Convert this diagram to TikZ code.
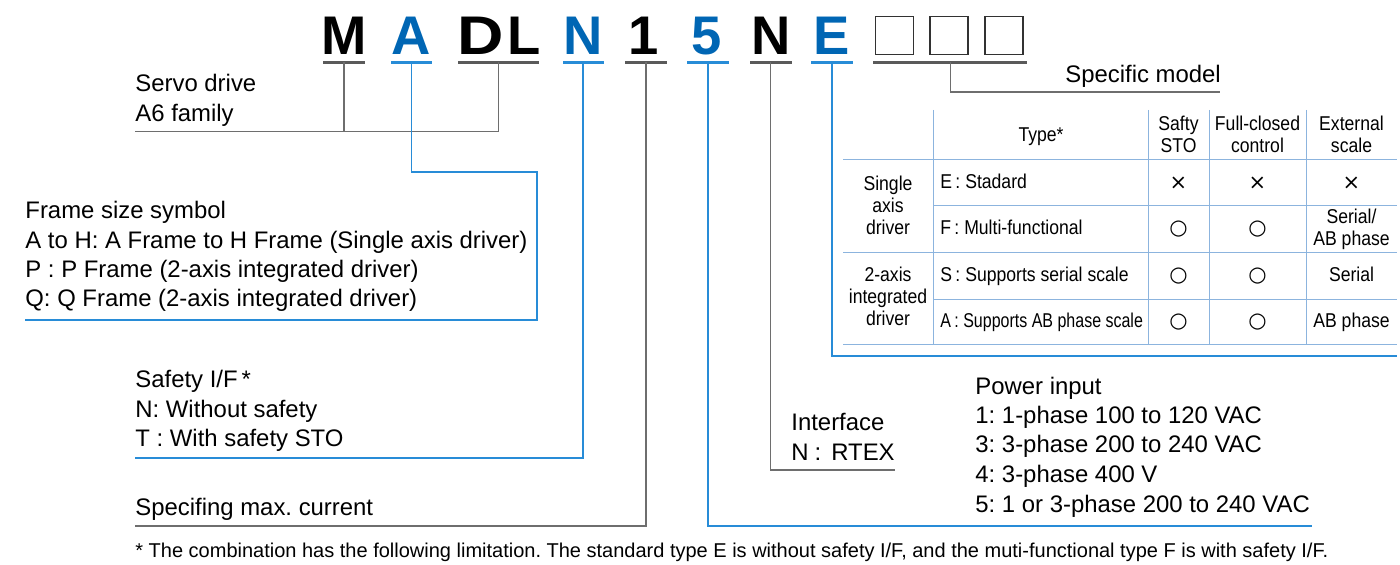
\documentclass[tikz,border=0pt]{standalone}
\usepackage{fontspec}
\setmainfont{Liberation Sans}
\newfontfamily\symfont{DejaVu Sans}
\newfontfamily\narrowfont[FakeStretch=0.88]{Liberation Sans}
\newfontfamily\narrowerfont[FakeStretch=0.80]{Liberation Sans}
\definecolor{codeblue}{RGB}{0,102,180}
\definecolor{lineblue}{RGB}{40,140,215}
\definecolor{linegray}{RGB}{110,110,110}
\definecolor{bargray}{RGB}{90,90,90}
\definecolor{tblue}{RGB}{140,180,222}
\definecolor{boxgray}{RGB}{50,50,50}
\frenchspacing
\begin{document}
\begin{tikzpicture}[x=0.5pt,y=-0.5pt,
  bigch/.style={font=\fontsize{27.2}{27.2}\selectfont\bfseries, anchor=base, inner sep=0},
  bigblue/.style={bigch, text=codeblue},
  lbl/.style={font=\fontsize{11.95}{14}\selectfont, anchor=base west, inner sep=0},
  foot/.style={font=\fontsize{10}{12}\selectfont, anchor=base west, inner sep=0},
  tbl/.style={font=\narrowfont\fontsize{10}{12}\selectfont, anchor=base, inner sep=0},
  tblw/.style={tbl, anchor=base west},
  tbln/.style={font=\narrowerfont\fontsize{10}{12}\selectfont, anchor=base west, inner sep=0},
  sym/.style={font=\symfont\fontsize{10.5}{12}\selectfont, anchor=center, inner sep=0},
  gline/.style={draw=linegray, line width=0.6pt},
  bline/.style={draw=lineblue, line width=0.6pt},
  gbar/.style={draw=bargray, line width=1.5pt},
  bbar/.style={draw=lineblue, line width=1.5pt},
  tline/.style={draw=tblue, line width=0.5pt},
  codebox/.style={draw=boxgray, line width=0.7pt, minimum width=19pt, minimum height=19pt, inner sep=0}
]
\useasboundingbox (0,0) rectangle (1400,565);

% ---- model code letters
\node[bigch]   (cM)  at (344,55) {M};
\node[bigblue] (cA)  at (411.5,55) {A};
\node[bigch]   (cD)  at (481,55) {\scalebox{1.18}[1]{D}};
\node[bigch]   (cL)  at (524.5,55) {L};
\node[bigblue] (cN1) at (583,55) {N};
\node[bigch]   (c1)  at (644,55) {1};
\node[bigblue] (c5)  at (706.5,55) {5};
\node[bigch]   (cN2) at (771,55) {N};
\node[bigblue] (cE)  at (832,55) {E};
\node[codebox] (bx1) at (894.5,35.5) {};
\node[codebox] (bx2) at (949,35.5) {};
\node[codebox] (bx3) at (1004,35.5) {};

% ---- underline bars
\coordinate (uM1) at (323,62.5);  \coordinate (uM2) at (365,62.5);  \coordinate (uM) at (344,62.5);
\coordinate (uA1) at (391,62.5);  \coordinate (uA2) at (432,62.5);  \coordinate (uA) at (411.5,62.5);
\coordinate (uD1) at (458,62.5);  \coordinate (uD2) at (539,62.5);  \coordinate (uD) at (498.5,62.5);
\coordinate (uN1) at (563,62.5);  \coordinate (uN2) at (604,62.5);  \coordinate (uN) at (583,62.5);
\coordinate (u11) at (625,62.5);  \coordinate (u12) at (667,62.5);  \coordinate (u1) at (646,62.5);
\coordinate (u51) at (687,62.5);  \coordinate (u52) at (729,62.5);  \coordinate (u5) at (708,62.5);
\coordinate (uP1) at (750,62.5);  \coordinate (uP2) at (792,62.5);  \coordinate (uP) at (770.5,62.5);
\coordinate (uE1) at (811,62.5);  \coordinate (uE2) at (853,62.5);  \coordinate (uE) at (832,62.5);
\coordinate (uB1) at (873,62.5);  \coordinate (uB2) at (1027,62.5); \coordinate (uB) at (950.5,62.5);
\draw[gbar] (uM1) -- (uM2);
\draw[bbar] (uA1) -- (uA2);
\draw[gbar] (uD1) -- (uD2);
\draw[bbar] (uN1) -- (uN2);
\draw[gbar] (u11) -- (u12);
\draw[bbar] (u51) -- (u52);
\draw[gbar] (uP1) -- (uP2);
\draw[bbar] (uE1) -- (uE2);
\draw[gbar] (uB1) -- (uB2);

% ---- labels
\node[lbl] (sv1) at (135,92) {Servo drive};
\node[lbl] (sv2) at (135,122) {A6 family};
\node[lbl] (fr1) at (25,219) {Frame size symbol};
\node[lbl] (fr2) at (25,249) {A to H: A Frame to H Frame (Single axis driver)};
\node[lbl] (fr3) at (25,278) {P : P Frame (2-axis integrated driver)};
\node[lbl] (fr4) at (25,307) {Q: Q Frame (2-axis integrated driver)};
\node[lbl] (sf1) at (135,388) {Safety I/F\,*};
\node[lbl] (sf2) at (135,418) {N: Without safety};
\node[lbl] (sf3) at (135,447) {T : With safety STO};
\node[lbl] (mc1) at (135,516) {Specifing max. current};
\node[lbl] (if1) at (791,431) {Interface};
\node[lbl] (if2) at (791,461) {N\hspace{3pt}:\hspace{5pt}RTEX};
\node[lbl] (pw1) at (975,395) {Power input};
\node[lbl] (pw2) at (975,424) {1: 1-phase 100 to 120 VAC};
\node[lbl] (pw3) at (975,453) {3: 3-phase 200 to 240 VAC};
\node[lbl] (pw4) at (975,483) {4: 3-phase 400 V};
\node[lbl] (pw5) at (975,512) {5: 1 or 3-phase 200 to 240 VAC};
\node[lbl] (spm) at (1065,83) {Specific model};
\node[foot] (fn) at (135,557) {* The combination has the following limitation. The standard type E is without safety I/F, and the muti-functional type F is with safety I/F.};

% ---- connector corners
\coordinate (svL) at (135,131.5);
\coordinate (svM) at (344,131.5);
\coordinate (svR) at (498.5,131.5);
\coordinate (frA) at (537,172);
\coordinate (frB) at (537,320);
\coordinate (frL) at (25,320);
\coordinate (sfR) at (583,458);
\coordinate (sfL) at (135,458);
\coordinate (mcR) at (646,526);
\coordinate (mcL) at (135,526);
\coordinate (pwL) at (708,526);
\coordinate (pwR) at (1312,526);
\coordinate (ifB) at (770.5,470);
\coordinate (ifR) at (895,470);
\coordinate (tbB) at (832,356);
\coordinate (tbR) at (1397,356);
\coordinate (spB) at (950.5,92);
\coordinate (spR) at (1220,92);

\draw[gline] (uM) -- (svM);
\draw[gline] (uD) -- (svR) -- (svL);
\draw[bline] (uA) |- (frA) -- (frB) -- (frL);
\draw[bline] (uN) -- (sfR) -- (sfL);
\draw[gline] (u1) -- (mcR) -- (mcL);
\draw[bline] (u5) -- (pwL) -- (pwR);
\draw[gline] (uP) -- (ifB) -- (ifR);
\draw[bline] (uE) -- (tbB) -- (tbR);
\draw[gline] (uB) -- (spB) -- (spR);

% ---- table grid
\draw[tline] (933,110) -- (933,345);
\draw[tline] (1148,110) -- (1148,345);
\draw[tline] (1209,110) -- (1209,345);
\draw[tline] (1306,110) -- (1306,345);
\draw[tline] (843,160) -- (1397,160);
\draw[tline] (933,206) -- (1397,206);
\draw[tline] (843,253) -- (1397,253);
\draw[tline] (933,300) -- (1397,300);
\draw[tline] (843,345) -- (1397,345);

% header
\node[tbl] (hType) at (1041,142) {Type*};
\node[tbl] (hS1) at (1178.5,131) {Safty};
\node[tbl] (hS2) at (1178.5,153) {STO};
\node[tbl] (hF1) at (1257.5,131) {Full-closed};
\node[tbl] (hF2) at (1257.5,153) {control};
\node[tbl] (hE1) at (1351.5,131) {External};
\node[tbl] (hE2) at (1351.5,153) {scale};
% groups
\node[tbl] (g11) at (888,191) {Single};
\node[tbl] (g12) at (888,213) {axis};
\node[tbl] (g13) at (888,235) {driver};
\node[tbl] (g21) at (888,282) {2-axis};
\node[tbl] (g22) at (888,304) {integrated};
\node[tbl] (g23) at (888,326) {driver};
% rows
\node[tblw] (rE) at (940,189) {E\,: Stadard};
\node[tblw] (rF) at (940,235) {F\,: Multi-functional};
\node[tblw] (rS) at (940,282) {S\,: Supports serial scale};
\node[tbln] (rA) at (940,328) {A\,: Supports AB phase scale};
% marks
\node[sym] (xE1) at (1178.5,183) {×};
\node[sym] (xE2) at (1257.5,183) {×};
\node[sym] (xE3) at (1351.5,183) {×};
\node[sym] (oF1) at (1178.5,229) {○};
\node[sym] (oF2) at (1257.5,229) {○};
\node[sym] (oS1) at (1178.5,276) {○};
\node[sym] (oS2) at (1257.5,276) {○};
\node[sym] (oA1) at (1178.5,322) {○};
\node[sym] (oA2) at (1257.5,322) {○};
\node[tbl] (eF1) at (1351.5,224) {Serial/};
\node[tbl] (eF2) at (1351.5,246) {AB phase};
\node[tbl] (eS) at (1351.5,282) {Serial};
\node[tbl] (eA) at (1351.5,328) {AB phase};
\end{tikzpicture}
\end{document}
